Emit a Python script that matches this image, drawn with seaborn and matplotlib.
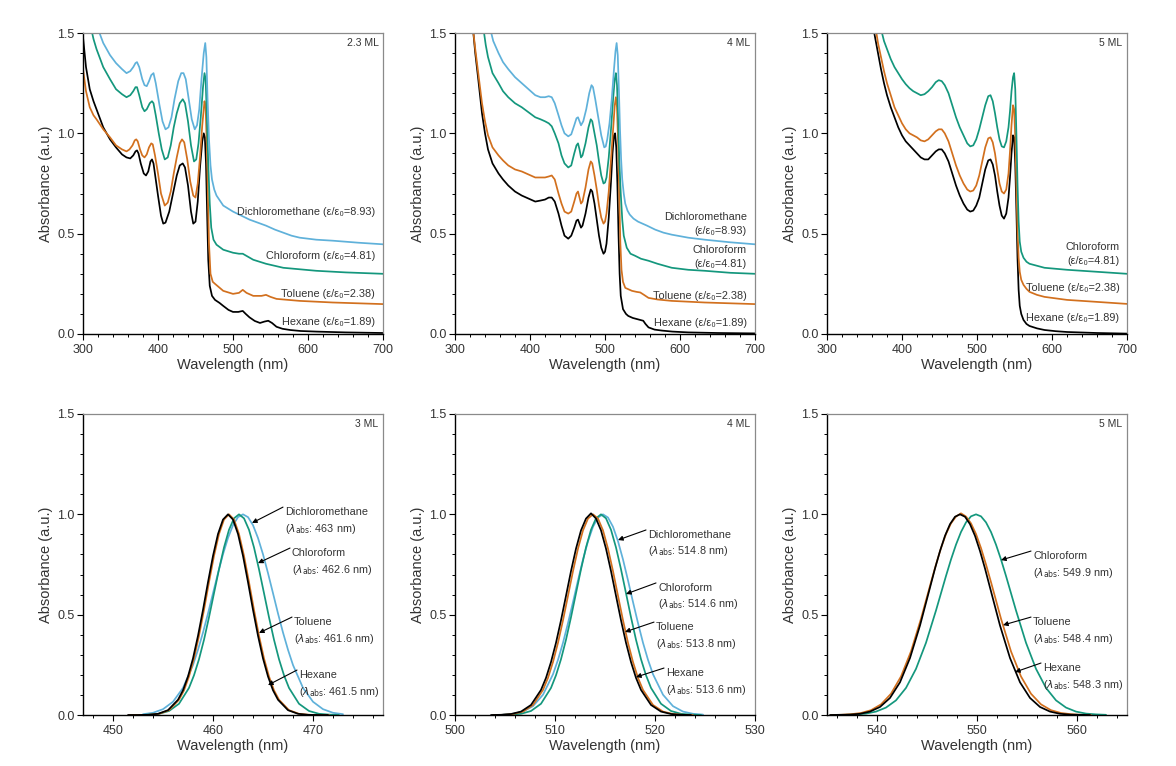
#!/usr/bin/env python3

import seaborn as sns
import matplotlib.pyplot as plt
from matplotlib.ticker import MultipleLocator

# ---- colours per solvent
HEX_C = "#000000"
TOL_C = "#d2701e"
CHL_C = "#14977d"
DCM_C = "#5fb1da"

# ---- top row: absorption spectra (wavelength nm, absorbance)
t1_hex_x = [300, 304, 309, 314, 318, 327, 336, 344, 352, 358, 363, 367, 370, 372, 374, 377, 381, 384, 387, 390, 392, 394, 397, 400, 404, 407, 410, 415, 420, 425, 429, 433, 436, 440, 444, 447, 450, 453, 456, 459, 461, 462.5, 464, 465.5, 467, 469, 472, 476, 482, 487, 494, 500, 507, 513, 517, 522, 529, 536, 542, 547, 552, 558, 566, 576, 590, 611, 650, 700]
t1_hex_y = [1.48, 1.33, 1.22, 1.16, 1.12, 1.03, 0.97, 0.93, 0.895, 0.88, 0.875, 0.89, 0.91, 0.915, 0.90, 0.85, 0.80, 0.79, 0.81, 0.86, 0.87, 0.85, 0.77, 0.69, 0.59, 0.55, 0.555, 0.61, 0.70, 0.79, 0.84, 0.85, 0.83, 0.74, 0.61, 0.55, 0.56, 0.66, 0.83, 0.96, 1.00, 0.98, 0.85, 0.60, 0.37, 0.24, 0.19, 0.17, 0.155, 0.14, 0.12, 0.11, 0.11, 0.115, 0.10, 0.083, 0.065, 0.055, 0.062, 0.066, 0.055, 0.036, 0.026, 0.02, 0.015, 0.012, 0.008, 0.005]
t1_tol_x = [300, 304, 309, 314, 318, 327, 336, 344, 352, 358, 362, 366, 369, 371, 373, 376, 379, 382, 385, 388, 391, 393, 396, 400, 404, 409, 413, 417, 421, 425, 429, 432, 435, 439, 443, 447, 450, 453, 456, 459, 462, 463.5, 465, 466.5, 468, 470, 473, 476, 487, 500, 508, 513, 518, 527, 538, 544, 550, 558, 589, 633, 700]
t1_tol_y = [1.32, 1.21, 1.13, 1.09, 1.07, 1.02, 0.98, 0.94, 0.92, 0.91, 0.92, 0.94, 0.965, 0.97, 0.96, 0.92, 0.89, 0.88, 0.895, 0.93, 0.95, 0.945, 0.89, 0.80, 0.70, 0.64, 0.655, 0.71, 0.80, 0.88, 0.95, 0.97, 0.955, 0.87, 0.76, 0.69, 0.68, 0.75, 0.88, 1.04, 1.16, 1.13, 0.95, 0.70, 0.45, 0.30, 0.26, 0.25, 0.215, 0.20, 0.205, 0.22, 0.205, 0.19, 0.19, 0.195, 0.185, 0.175, 0.165, 0.157, 0.149]
t1_chl_x = [311, 314, 318, 323, 327, 336, 344, 352, 358, 363, 367, 370, 372, 375, 379, 382, 385, 389, 392, 394, 397, 401, 405, 409, 413, 417, 421, 425, 429, 433, 436, 440, 444, 448, 451, 454, 457, 460, 462, 463.5, 465, 467, 469, 471, 474, 478, 487, 500, 508, 513, 520, 527, 544, 567, 611, 650, 700]
t1_chl_y = [1.52, 1.47, 1.42, 1.37, 1.33, 1.27, 1.22, 1.195, 1.18, 1.19, 1.21, 1.23, 1.23, 1.19, 1.13, 1.11, 1.12, 1.15, 1.16, 1.15, 1.09, 1.00, 0.92, 0.87, 0.88, 0.94, 1.03, 1.10, 1.15, 1.17, 1.15, 1.06, 0.94, 0.86, 0.87, 0.95, 1.08, 1.23, 1.30, 1.27, 1.10, 0.85, 0.65, 0.53, 0.47, 0.445, 0.42, 0.405, 0.40, 0.40, 0.385, 0.37, 0.35, 0.33, 0.315, 0.307, 0.30]
t1_dcm_x = [320, 323, 327, 336, 344, 352, 358, 363, 367, 370, 372, 375, 379, 382, 385, 388, 391, 394, 397, 402, 406, 410, 414, 418, 422, 427, 431, 434, 437, 441, 445, 449, 452, 455, 458, 461, 463, 464.5, 466, 468, 470, 472, 475, 478, 487, 500, 511, 522, 533, 544, 556, 567, 578, 589, 611, 633, 667, 700]
t1_dcm_y = [1.52, 1.49, 1.45, 1.39, 1.35, 1.32, 1.30, 1.31, 1.33, 1.35, 1.355, 1.33, 1.27, 1.24, 1.235, 1.26, 1.29, 1.30, 1.25, 1.14, 1.06, 1.02, 1.03, 1.08, 1.17, 1.26, 1.30, 1.30, 1.27, 1.17, 1.07, 1.02, 1.04, 1.12, 1.27, 1.40, 1.45, 1.38, 1.18, 0.97, 0.84, 0.77, 0.72, 0.69, 0.64, 0.61, 0.59, 0.57, 0.555, 0.54, 0.52, 0.505, 0.49, 0.48, 0.47, 0.465, 0.455, 0.447]

t2_hex_x = [324, 327, 331, 336, 340, 344, 350, 358, 364, 371, 380, 389, 398, 407, 414, 420, 425, 429, 433, 438, 442, 446, 451, 455, 459, 462, 464, 466, 468, 470, 474, 478, 481, 483, 486, 489, 492, 495, 498, 500, 502, 505, 508, 510, 512, 513.5, 515, 516.5, 518, 519.5, 521, 524, 528, 531, 537, 542, 547, 551, 554, 558, 566, 576, 590, 611, 650, 700]
t2_hex_y = [1.52, 1.40, 1.27, 1.10, 1.00, 0.92, 0.85, 0.80, 0.77, 0.74, 0.71, 0.69, 0.675, 0.66, 0.665, 0.67, 0.68, 0.68, 0.66, 0.60, 0.54, 0.49, 0.475, 0.49, 0.53, 0.565, 0.57, 0.55, 0.53, 0.54, 0.60, 0.68, 0.72, 0.71, 0.65, 0.57, 0.49, 0.43, 0.40, 0.41, 0.45, 0.58, 0.76, 0.90, 0.99, 1.00, 0.93, 0.75, 0.50, 0.30, 0.19, 0.124, 0.10, 0.09, 0.08, 0.075, 0.07, 0.066, 0.05, 0.033, 0.022, 0.017, 0.012, 0.008, 0.005, 0.003]
t2_tol_x = [324, 327, 331, 336, 340, 344, 350, 358, 364, 371, 380, 389, 398, 407, 414, 420, 425, 429, 433, 438, 442, 446, 451, 455, 459, 462, 464, 466, 468, 470, 474, 478, 481, 483, 486, 489, 492, 495, 498, 500, 502, 505, 508, 511, 513, 514.5, 516, 517.5, 519, 520.5, 522, 524, 527, 536, 542, 547, 552, 558, 570, 589, 633, 700]
t2_tol_y = [1.52, 1.42, 1.30, 1.15, 1.06, 0.99, 0.93, 0.89, 0.865, 0.84, 0.82, 0.81, 0.795, 0.78, 0.78, 0.78, 0.785, 0.79, 0.77, 0.70, 0.65, 0.61, 0.60, 0.61, 0.66, 0.70, 0.71, 0.68, 0.65, 0.66, 0.73, 0.82, 0.86, 0.85, 0.79, 0.72, 0.64, 0.58, 0.55, 0.56, 0.60, 0.71, 0.87, 1.03, 1.14, 1.18, 1.13, 0.95, 0.68, 0.45, 0.32, 0.26, 0.23, 0.215, 0.21, 0.207, 0.195, 0.18, 0.172, 0.165, 0.157, 0.149]
t2_chl_x = [338, 341, 344, 350, 358, 364, 371, 380, 389, 398, 407, 414, 420, 425, 429, 433, 438, 442, 446, 451, 455, 459, 462, 464, 466, 468, 470, 474, 478, 481, 483, 486, 489, 492, 495, 498, 500, 502, 505, 508, 511, 513, 514.5, 516, 517.5, 519, 521, 523, 525, 529, 534, 540, 548, 558, 570, 589, 611, 633, 667, 700]
t2_chl_y = [1.52, 1.44, 1.38, 1.30, 1.25, 1.21, 1.18, 1.15, 1.13, 1.105, 1.08, 1.07, 1.06, 1.05, 1.035, 1.00, 0.95, 0.89, 0.85, 0.83, 0.84, 0.90, 0.94, 0.95, 0.92, 0.88, 0.89, 0.95, 1.03, 1.07, 1.06, 1.00, 0.94, 0.86, 0.79, 0.75, 0.755, 0.78, 0.88, 1.02, 1.18, 1.27, 1.30, 1.24, 1.07, 0.87, 0.70, 0.57, 0.49, 0.43, 0.40, 0.39, 0.375, 0.365, 0.35, 0.33, 0.32, 0.315, 0.305, 0.30]
t2_dcm_x = [347, 351, 358, 364, 371, 380, 389, 398, 407, 414, 420, 425, 429, 433, 438, 442, 446, 451, 455, 459, 462, 464, 466, 468, 471, 475, 479, 482, 484, 487, 491, 495, 499, 501, 503, 506, 509, 512, 514, 515.5, 517, 518.5, 520, 521.5, 523, 525, 527, 530, 533, 538, 544, 556, 567, 578, 589, 611, 633, 667, 700]
t2_dcm_y = [1.52, 1.46, 1.40, 1.355, 1.32, 1.28, 1.25, 1.22, 1.19, 1.18, 1.18, 1.185, 1.18, 1.15, 1.09, 1.04, 1.00, 0.985, 0.995, 1.04, 1.075, 1.08, 1.06, 1.04, 1.06, 1.12, 1.20, 1.24, 1.23, 1.17, 1.08, 0.99, 0.93, 0.935, 0.97, 1.05, 1.17, 1.32, 1.41, 1.45, 1.39, 1.22, 1.02, 0.87, 0.77, 0.70, 0.65, 0.615, 0.595, 0.575, 0.56, 0.54, 0.52, 0.505, 0.495, 0.48, 0.47, 0.457, 0.447]

t3_hex_x = [362, 365, 368, 372, 376, 380, 385, 390, 395, 400, 405, 410, 415, 420, 425, 430, 435, 440, 445, 449, 453, 457, 462, 467, 472, 477, 482, 487, 491, 495, 499, 503, 507, 511, 515, 518, 521, 524, 527, 530, 533, 536, 539, 542, 544, 546, 548, 549.5, 551, 552.5, 554, 555.5, 557, 559, 562, 566, 570, 580, 590, 605, 620, 660, 700]
t3_hex_y = [1.52, 1.46, 1.40, 1.32, 1.25, 1.19, 1.13, 1.08, 1.03, 0.99, 0.96, 0.94, 0.92, 0.90, 0.88, 0.87, 0.87, 0.89, 0.91, 0.92, 0.92, 0.90, 0.86, 0.80, 0.74, 0.69, 0.65, 0.62, 0.61, 0.615, 0.64, 0.68, 0.75, 0.82, 0.865, 0.87, 0.845, 0.79, 0.71, 0.64, 0.59, 0.575, 0.60, 0.68, 0.78, 0.90, 0.99, 0.98, 0.85, 0.62, 0.38, 0.22, 0.14, 0.10, 0.07, 0.05, 0.04, 0.028, 0.02, 0.014, 0.01, 0.005, 0.002]
t3_tol_x = [365, 368, 372, 376, 380, 385, 390, 395, 400, 405, 410, 415, 420, 425, 430, 435, 440, 445, 449, 453, 457, 462, 467, 472, 477, 482, 487, 491, 495, 499, 503, 507, 511, 515, 518, 521, 524, 527, 530, 533, 536, 539, 542, 544, 546, 548, 549.5, 551, 552.5, 554, 555.5, 557, 559, 562, 566, 570, 580, 590, 620, 660, 700]
t3_tol_y = [1.52, 1.45, 1.38, 1.31, 1.25, 1.19, 1.13, 1.09, 1.05, 1.02, 1.00, 0.99, 0.98, 0.965, 0.96, 0.97, 0.99, 1.01, 1.02, 1.02, 1.00, 0.96, 0.90, 0.84, 0.79, 0.75, 0.72, 0.71, 0.715, 0.74, 0.79, 0.86, 0.93, 0.975, 0.98, 0.955, 0.90, 0.82, 0.75, 0.71, 0.70, 0.72, 0.80, 0.91, 1.04, 1.14, 1.12, 0.98, 0.75, 0.52, 0.38, 0.31, 0.27, 0.245, 0.225, 0.21, 0.195, 0.185, 0.17, 0.16, 0.15]
t3_chl_x = [372, 376, 380, 385, 390, 395, 400, 405, 410, 415, 420, 425, 430, 435, 440, 445, 449, 453, 457, 462, 467, 472, 477, 482, 487, 491, 495, 499, 503, 507, 511, 515, 518, 521, 524, 527, 530, 533, 536, 539, 542, 544, 546, 548, 549.5, 551, 552.5, 554, 555.5, 557, 559, 562, 566, 570, 580, 590, 620, 660, 700]
t3_chl_y = [1.52, 1.46, 1.42, 1.37, 1.33, 1.30, 1.27, 1.245, 1.225, 1.21, 1.20, 1.19, 1.195, 1.21, 1.23, 1.255, 1.265, 1.26, 1.24, 1.20, 1.14, 1.08, 1.03, 0.99, 0.95, 0.935, 0.94, 0.97, 1.02, 1.08, 1.14, 1.185, 1.19, 1.16, 1.10, 1.03, 0.97, 0.935, 0.93, 0.96, 1.03, 1.11, 1.21, 1.28, 1.30, 1.22, 1.00, 0.75, 0.56, 0.46, 0.41, 0.38, 0.36, 0.35, 0.34, 0.33, 0.32, 0.31, 0.30]

# ---- bottom row: first exciton peak (offset from peak nm, normalised absorbance)
b_off = [-10, -9, -8, -7, -6, -5, -4.5, -4, -3.5, -3, -2.5, -2, -1.5, -1, -0.5, 0,
         0.5, 1, 1.5, 2, 2.5, 3, 3.5, 4, 4.5, 5, 6, 7, 8, 9, 10]
b3_off = [-13, -12, -11, -10, -9, -8, -7, -6, -5, -4, -3, -2.5, -2, -1.5, -1, -0.5, 0,
          0.5, 1, 1.5, 2, 2.5, 3, 4, 5, 6, 7, 8, 9, 10, 11, 12, 13]

b1_peaks = {"Hexane": 461.5, "Toluene": 461.6, "Chloroform": 462.6, "Dichloromethane": 463.0}
b1_hex_y = [0.0, 0.0, 0.001, 0.006, 0.024, 0.076, 0.123, 0.192, 0.282, 0.395, 0.524, 0.662, 0.793, 0.902, 0.974, 1.0,
            0.974, 0.902, 0.793, 0.662, 0.524, 0.395, 0.282, 0.192, 0.123, 0.076, 0.024, 0.006, 0.001, 0.0, 0.0]
b1_tol_y = [0.0, 0.0, 0.001, 0.006, 0.024, 0.076, 0.123, 0.192, 0.282, 0.395, 0.524, 0.662, 0.793, 0.902, 0.974, 1.0,
            0.974, 0.902, 0.793, 0.662, 0.524, 0.395, 0.282, 0.192, 0.123, 0.076, 0.024, 0.006, 0.001, 0.0, 0.0]
b1_chl_y = [0.0, 0.002, 0.006, 0.020, 0.056, 0.135, 0.198, 0.278, 0.375, 0.487, 0.607, 0.726, 0.835, 0.923, 0.980, 1.0,
            0.980, 0.923, 0.835, 0.726, 0.607, 0.487, 0.375, 0.278, 0.198, 0.135, 0.056, 0.020, 0.006, 0.002, 0.0]
b1_dcm_y = [0.004, 0.011, 0.029, 0.066, 0.135, 0.249, 0.325, 0.411, 0.506, 0.607, 0.707, 0.801, 0.882, 0.946, 0.986, 1.0,
            0.986, 0.946, 0.882, 0.801, 0.707, 0.607, 0.506, 0.411, 0.325, 0.249, 0.135, 0.066, 0.029, 0.011, 0.004]

b2_peaks = {"Hexane": 513.6, "Toluene": 513.8, "Chloroform": 514.6, "Dichloromethane": 514.8}
b2_hex_y = [0.0, 0.001, 0.005, 0.017, 0.050, 0.125, 0.185, 0.264, 0.360, 0.472, 0.594, 0.717, 0.829, 0.920, 0.979, 1.005,
            0.979, 0.920, 0.829, 0.717, 0.594, 0.472, 0.360, 0.264, 0.185, 0.125, 0.050, 0.017, 0.005, 0.001, 0.0]
b2_tol_y = [0.0, 0.001, 0.005, 0.017, 0.050, 0.125, 0.185, 0.264, 0.360, 0.472, 0.594, 0.717, 0.829, 0.920, 0.979, 1.0,
            0.979, 0.920, 0.829, 0.717, 0.594, 0.472, 0.360, 0.264, 0.185, 0.125, 0.050, 0.017, 0.005, 0.001, 0.0]
b2_chl_y = [0.0, 0.002, 0.006, 0.020, 0.056, 0.135, 0.198, 0.278, 0.375, 0.487, 0.607, 0.726, 0.835, 0.923, 0.980, 1.0,
            0.980, 0.923, 0.835, 0.726, 0.607, 0.487, 0.375, 0.278, 0.198, 0.135, 0.056, 0.020, 0.006, 0.002, 0.0]
b2_dcm_y = [0.002, 0.006, 0.017, 0.044, 0.101, 0.203, 0.275, 0.360, 0.458, 0.563, 0.671, 0.775, 0.866, 0.938, 0.984, 1.0,
            0.984, 0.938, 0.866, 0.775, 0.671, 0.563, 0.458, 0.360, 0.275, 0.203, 0.101, 0.044, 0.017, 0.006, 0.002]

b3_peaks = {"Hexane": 548.3, "Toluene": 548.4, "Chloroform": 549.9}
b3_hex_y = [0.0, 0.001, 0.002, 0.006, 0.017, 0.040, 0.085, 0.163, 0.284, 0.446, 0.635, 0.730, 0.817, 0.893, 0.951, 0.988, 1.0,
            0.988, 0.951, 0.893, 0.817, 0.730, 0.635, 0.446, 0.284, 0.163, 0.085, 0.040, 0.017, 0.006, 0.002, 0.001, 0.0]
b3_tol_y = [0.0, 0.001, 0.004, 0.010, 0.024, 0.053, 0.106, 0.192, 0.317, 0.480, 0.662, 0.750, 0.832, 0.902, 0.955, 0.989, 1.005,
            0.989, 0.955, 0.902, 0.832, 0.750, 0.662, 0.480, 0.317, 0.192, 0.106, 0.053, 0.024, 0.010, 0.004, 0.001, 0.0]
b3_chl_y = [0.001, 0.003, 0.007, 0.017, 0.037, 0.073, 0.135, 0.230, 0.360, 0.521, 0.693, 0.775, 0.849, 0.912, 0.960, 0.990, 1.0,
            0.990, 0.960, 0.912, 0.849, 0.775, 0.693, 0.521, 0.360, 0.230, 0.135, 0.073, 0.037, 0.017, 0.007, 0.003, 0.001]

eps = {"Hexane": "1.89", "Toluene": "2.38", "Chloroform": "4.81", "Dichloromethane": "8.93"}

sns.set_style("ticks")
plt.rcParams["font.family"] = ["Liberation Sans", "DejaVu Sans"]
plt.rcParams["mathtext.fontset"] = "dejavusans"

TXT = "#333333"
W, H = 1176, 766
fig = plt.figure(figsize=(W / 100, H / 100), dpi=100)


def make_ax(left, top, xlim, xmaj, xmin):
    ax = fig.add_axes([left / W, (H - top - 301) / H, 300 / W, 301 / H])
    ax.set_xlim(*xlim)
    ax.set_ylim(0, 1.5)
    ax.xaxis.set_major_locator(MultipleLocator(xmaj))
    ax.xaxis.set_minor_locator(MultipleLocator(xmin))
    ax.yaxis.set_major_locator(MultipleLocator(0.5))
    ax.yaxis.set_minor_locator(MultipleLocator(0.1))
    ax.yaxis.set_major_formatter(lambda v, p: f"{v:.1f}")
    for s in ("left", "bottom"):
        ax.spines[s].set_color("black")
        ax.spines[s].set_linewidth(1.0)
    for s in ("top", "right"):
        ax.spines[s].set_color("#8a8a8a")
        ax.spines[s].set_linewidth(0.9)
    ax.tick_params(which="both", direction="out", top=False, right=False,
                   colors="black", labelcolor=TXT, labelsize=9)
    ax.tick_params(axis="y", which="major", pad=2)
    ax.tick_params(which="major", length=4, width=0.8)
    ax.tick_params(which="minor", length=2.5, width=0.7)
    ax.set_xlabel("Wavelength (nm)", fontsize=10.5, color=TXT, labelpad=1)
    ax.set_ylabel("Absorbance (a.u.)", fontsize=10.5, color=TXT, labelpad=3)
    return ax


def line(ax, x, y, c):
    sns.lineplot(x=x, y=y, ax=ax, color=c, linewidth=1.25, estimator=None, sort=False)


def tag(ax, s):
    ax.text(0.985, 0.985, s, transform=ax.transAxes, ha="right", va="top",
            fontsize=7.5, color=TXT)


def lab(ax, x, y, s):
    ax.text(x, y, s, ha="right", va="center", fontsize=7.8, color=TXT, linespacing=1.5)


def arrow_lab(ax, tail, tip, name, lam):
    ax.annotate("", xy=tip, xytext=tail,
                arrowprops=dict(arrowstyle="-|>", color="black", lw=0.8,
                                mutation_scale=7, shrinkA=0, shrinkB=0))
    ax.text(tail[0] + 0.2, tail[1], name + "\n" + r"($\lambda_{\rm abs}$: " + lam + " nm)",
            ha="left", va="top", fontsize=7.8, color=TXT, linespacing=1.45)


lefts = [83, 455, 827]

# ---------------- top row
ax = make_ax(lefts[0], 33, (300, 700), 100, 20)
line(ax, t1_hex_x, t1_hex_y, HEX_C)
line(ax, t1_tol_x, t1_tol_y, TOL_C)
line(ax, t1_chl_x, t1_chl_y, CHL_C)
line(ax, t1_dcm_x, t1_dcm_y, DCM_C)
tag(ax, "2.3 ML")
lab(ax, 689, 0.61, f"Dichloromethane (ε/ε₀={eps['Dichloromethane']})")
lab(ax, 689, 0.39, f"Chloroform (ε/ε₀={eps['Chloroform']})")
lab(ax, 689, 0.20, f"Toluene (ε/ε₀={eps['Toluene']})")
lab(ax, 689, 0.058, f"Hexane (ε/ε₀={eps['Hexane']})")

ax = make_ax(lefts[1], 33, (300, 700), 100, 20)
line(ax, t2_hex_x, t2_hex_y, HEX_C)
line(ax, t2_tol_x, t2_tol_y, TOL_C)
line(ax, t2_chl_x, t2_chl_y, CHL_C)
line(ax, t2_dcm_x, t2_dcm_y, DCM_C)
tag(ax, "4 ML")
lab(ax, 689, 0.55, f"Dichloromethane\n(ε/ε₀={eps['Dichloromethane']})")
lab(ax, 689, 0.385, f"Chloroform\n(ε/ε₀={eps['Chloroform']})")
lab(ax, 689, 0.19, f"Toluene (ε/ε₀={eps['Toluene']})")
lab(ax, 689, 0.055, f"Hexane (ε/ε₀={eps['Hexane']})")

ax = make_ax(lefts[2], 33, (300, 700), 100, 20)
line(ax, t3_hex_x, t3_hex_y, HEX_C)
line(ax, t3_tol_x, t3_tol_y, TOL_C)
line(ax, t3_chl_x, t3_chl_y, CHL_C)
tag(ax, "5 ML")
lab(ax, 690, 0.40, f"Chloroform\n(ε/ε₀={eps['Chloroform']})")
lab(ax, 690, 0.23, f"Toluene (ε/ε₀={eps['Toluene']})")
lab(ax, 690, 0.08, f"Hexane (ε/ε₀={eps['Hexane']})")

# ---------------- bottom row
ax = make_ax(lefts[0], 414, (447, 477), 10, 2)
for name, ys, c in [("Dichloromethane", b1_dcm_y, DCM_C), ("Chloroform", b1_chl_y, CHL_C),
                    ("Toluene", b1_tol_y, TOL_C), ("Hexane", b1_hex_y, HEX_C)]:
    line(ax, [b1_peaks[name] + d for d in b_off], ys, c)
tag(ax, "3 ML")
arrow_lab(ax, (467.0, 1.036), (463.9, 0.957), "Dichloromethane", "463")
arrow_lab(ax, (467.7, 0.832), (464.5, 0.757), "Chloroform", "462.6")
arrow_lab(ax, (467.9, 0.488), (464.6, 0.409), "Toluene", "461.6")
arrow_lab(ax, (468.4, 0.224), (465.5, 0.149), "Hexane", "461.5")

ax = make_ax(lefts[1], 414, (500, 530), 10, 2)
for name, ys, c in [("Dichloromethane", b2_dcm_y, DCM_C), ("Chloroform", b2_chl_y, CHL_C),
                    ("Toluene", b2_tol_y, TOL_C), ("Hexane", b2_hex_y, HEX_C)]:
    line(ax, [b2_peaks[name] + d for d in b_off], ys, c)
tag(ax, "4 ML")
arrow_lab(ax, (519.1, 0.922), (516.3, 0.872), "Dichloromethane", "514.8")
arrow_lab(ax, (520.1, 0.658), (517.1, 0.603), "Chloroform", "514.6")
arrow_lab(ax, (519.9, 0.463), (517.0, 0.414), "Toluene", "513.8")
arrow_lab(ax, (520.9, 0.234), (518.1, 0.189), "Hexane", "513.6")

ax = make_ax(lefts[2], 414, (535, 565), 10, 2)
for name, ys, c in [("Chloroform", b3_chl_y, CHL_C), ("Toluene", b3_tol_y, TOL_C),
                    ("Hexane", b3_hex_y, HEX_C)]:
    line(ax, [b3_peaks[name] + d for d in b3_off], ys, c)
tag(ax, "5 ML")
arrow_lab(ax, (555.4, 0.817), (552.4, 0.772), "Chloroform", "549.9")
arrow_lab(ax, (555.4, 0.488), (552.6, 0.448), "Toluene", "548.4")
arrow_lab(ax, (556.4, 0.259), (553.8, 0.214), "Hexane", "548.3")

fig.savefig("out.png", dpi=100)
